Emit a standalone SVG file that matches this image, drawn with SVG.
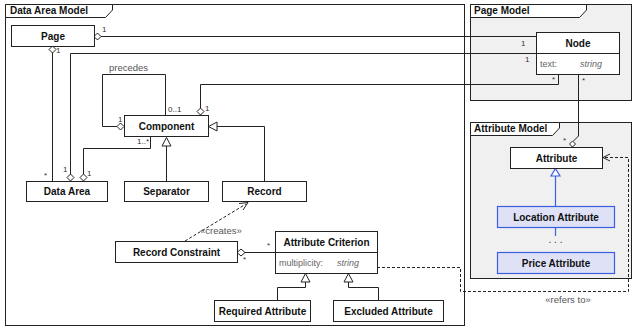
<svg xmlns="http://www.w3.org/2000/svg" width="637" height="330" viewBox="0 0 637 330">
<style>
.frame{fill:#ffffff;stroke:#222;stroke-width:1}
.gframe{fill:#f0f0f0;stroke:#222;stroke-width:1}
.tab{fill:#ffffff;stroke:#222;stroke-width:1}
.tabt{font-family:"Liberation Sans",Arial,sans-serif;font-size:10px;font-weight:bold;fill:#111}
.box{fill:#ffffff;stroke:#222;stroke-width:1}
.bbox{fill:#dfe1f7;stroke:#3b5fe0;stroke-width:1.2}
.nt{font-family:"Liberation Sans",Arial,sans-serif;font-size:10px;font-weight:bold;fill:#111;text-anchor:middle}
.at{font-family:"Liberation Sans",Arial,sans-serif;font-size:9px;fill:#666}
.ai{font-family:"Liberation Sans",Arial,sans-serif;font-size:9px;font-style:italic;fill:#666}
.m{font-family:"Liberation Sans",Arial,sans-serif;font-size:8px;fill:#333}
.lab{font-family:"Liberation Sans",Arial,sans-serif;font-size:9.5px;fill:#555}
.ln{fill:none;stroke:#222;stroke-width:1}
.dash{fill:none;stroke:#222;stroke-width:1;stroke-dasharray:3,2}
.blue{fill:none;stroke:#3b5fe0;stroke-width:1.2}
.dia{fill:#fff;stroke:#222;stroke-width:1}
.tri{fill:#fff;stroke:#222;stroke-width:1}
.btri{fill:#fff;stroke:#3b5fe0;stroke-width:1.2}
</style>

<g id="frame-data-area-model">
<rect class="frame" x="5.5" y="4.5" width="459" height="321"/>
<path class="tab" d="M5.5,4.5 H112.5 V10 L105.5,17.5 H5.5 Z"/>
<text class="tabt" x="10" y="14">Data Area Model</text>
</g>
<g id="frame-page-model">
<rect class="gframe" x="470.5" y="4.5" width="161" height="96"/>
<path class="tab" d="M470.5,4.5 H586.5 V10 L579.5,17.5 H470.5 Z"/>
<text class="tabt" x="474" y="14">Page Model</text>
</g>
<g id="frame-attribute-model">
<rect class="gframe" x="470.5" y="122.5" width="161" height="156"/>
<path class="tab" d="M470.5,122.5 H559.5 V128 L552.5,135.5 H470.5 Z"/>
<text class="tabt" x="474" y="132">Attribute Model</text>
</g>

<g id="connectors">
<!-- Page to Node -->
<path class="ln" d="M101,36.5 H536"/>
<path class="dia" d="M94,36.5 L97.5,33 L101,36.5 L97.5,40 Z"/>
<text class="m" x="102" y="32">1</text>
<text class="m" x="521" y="46">1</text>
<!-- Page to Data Area -->
<path class="ln" d="M52.5,53 V181"/>
<path class="dia" d="M52.5,46 L56,49.5 L52.5,53 L49,49.5 Z"/>
<text class="m" x="56" y="53">1</text>
<text class="m" x="44" y="178">*</text>
<!-- Data Area to Node -->
<path class="ln" d="M70.5,174 V53.5 H536"/>
<path class="dia" d="M70.5,174 L74,177.5 L70.5,181 L67,177.5 Z"/>
<text class="m" x="63" y="172">1</text>
<text class="m" x="525" y="62">1</text>
<!-- Component to Data Area (1..*) -->
<path class="ln" d="M150.5,137 V148.5 H83.5 V174"/>
<path class="dia" d="M83.5,174 L87,177.5 L83.5,181 L80,177.5 Z"/>
<text class="m" x="87" y="176">1</text>
<text class="m" x="137" y="144">1..*</text>
<!-- precedes -->
<path class="ln" d="M117,126.5 H102.5 V74.5 H165.5 V115"/>
<path class="dia" d="M124,126.5 L120.5,123 L117,126.5 L120.5,130 Z"/>
<text class="lab" x="109" y="71">precedes</text>
<text class="m" x="168" y="112">0..1</text>
<text class="m" x="118" y="122">1</text>
<!-- Component to Node -->
<path class="ln" d="M200.5,108 V84.5 H558.5 V74.5"/>
<path class="dia" d="M200.5,115 L197,111.5 L200.5,108 L204,111.5 Z"/>
<text class="m" x="205" y="111">1</text>
<text class="m" x="552" y="82">*</text>
<!-- Node to Attribute -->
<path class="ln" d="M578.5,74.5 V136 L573.5,141"/>
<path class="dia" d="M572.5,141 L575.5,144 L572.5,147 L569.5,144 Z"/>
<text class="m" x="582" y="83">*</text>
<text class="m" x="563" y="143">*</text>
<!-- Separator generalization -->
<path class="ln" d="M166.5,146 V181"/>
<path class="tri" d="M166.5,137.5 L171,146 L162,146 Z"/>
<!-- Record generalization -->
<path class="ln" d="M217,126.5 H264.5 V181"/>
<path class="tri" d="M208.5,126.5 L217,122 L217,131 Z"/>
<!-- creates -->
<path class="dash" d="M185,241 L246,204"/>
<path class="ln" d="M239,203.5 L248,202.5 L243,210"/>
<text class="lab" x="200" y="234">«creates»</text>
<!-- Record Constraint to Attribute Criterion -->
<path class="ln" d="M245,252.5 H275"/>
<path class="dia" d="M237,252.5 L241,249 L245,252.5 L241,256 Z"/>
<text class="m" x="243" y="262">*</text>
<text class="m" x="267" y="248">*</text>
<!-- Required / Excluded generalization -->
<path class="ln" d="M305.5,282 V287.5 H277.5 V300"/>
<path class="tri" d="M305.5,273.5 L310,282 L301,282 Z"/>
<path class="ln" d="M348.5,282 V287.5 H378.5 V300"/>
<path class="tri" d="M348.5,273.5 L353,282 L344,282 Z"/>
<!-- refers to -->
<path class="dash" d="M377,267.5 H460.5 V291.5 H628.5 V157.5 H604"/>
<path class="ln" d="M610,154 L603,157.5 L610,161"/>
<text class="lab" x="568" y="303" text-anchor="middle">«refers to»</text>
<!-- Location generalization -->
<path class="blue" d="M555.5,176 V207"/>
<path class="btri" d="M555.5,168.5 L560,176 L551,176 Z"/>
<path class="blue" d="M555.5,228 V236"/>
<text x="555.5" y="243" text-anchor="middle" font-family="Liberation Sans, Arial, sans-serif" font-size="10px" fill="#333">. . .</text>
</g>

<g id="node-page">
<rect class="box" x="11.5" y="25.5" width="83" height="21"/>
<text class="nt" x="53" y="39.5">Page</text>
</g>
<g id="node-component">
<rect class="box" x="124.5" y="115.5" width="84" height="21"/>
<text class="nt" x="166.5" y="129.5">Component</text>
</g>
<g id="node-data-area">
<rect class="box" x="26.5" y="181.5" width="81" height="20"/>
<text class="nt" x="67" y="195">Data Area</text>
</g>
<g id="node-separator">
<rect class="box" x="124.5" y="181.5" width="84" height="20"/>
<text class="nt" x="166.5" y="195">Separator</text>
</g>
<g id="node-record">
<rect class="box" x="222.5" y="181.5" width="84" height="20"/>
<text class="nt" x="264.5" y="195">Record</text>
</g>
<g id="node-record-constraint">
<rect class="box" x="115.5" y="241.5" width="122" height="21"/>
<text class="nt" x="176.5" y="255.5">Record Constraint</text>
</g>
<g id="node-attribute-criterion">
<rect class="box" x="275.5" y="231.5" width="102" height="42"/>
<path class="ln" d="M275.5,252.5 H377.5"/>
<text class="nt" x="326.5" y="245.5">Attribute Criterion</text>
<text class="at" x="279" y="266">multiplicity:</text>
<text class="ai" x="337" y="266">string</text>
</g>
<g id="node-required-attribute">
<rect class="box" x="214.5" y="300.5" width="96" height="21"/>
<text class="nt" x="262.5" y="314.5">Required Attribute</text>
</g>
<g id="node-excluded-attribute">
<rect class="box" x="333.5" y="300.5" width="110" height="21"/>
<text class="nt" x="388.5" y="314.5">Excluded Attribute</text>
</g>
<g id="node-node">
<rect class="box" x="536.5" y="32.5" width="83" height="42"/>
<path class="ln" d="M536.5,53.5 H619.5"/>
<text class="nt" x="578" y="46.5">Node</text>
<text class="at" x="540" y="67">text:</text>
<text class="ai" x="580" y="67">string</text>
</g>
<g id="node-attribute">
<rect class="box" x="510.5" y="147.5" width="92" height="21"/>
<text class="nt" x="556.5" y="161.5">Attribute</text>
</g>
<g id="node-location-attribute">
<rect class="bbox" x="497.5" y="206.5" width="117" height="21"/>
<text class="nt" x="556" y="220.5">Location Attribute</text>
</g>
<g id="node-price-attribute">
<rect class="bbox" x="497.5" y="252.5" width="117" height="21"/>
<text class="nt" x="556" y="266.5">Price Attribute</text>
</g>
</svg>
